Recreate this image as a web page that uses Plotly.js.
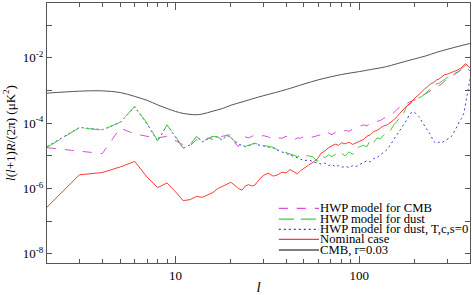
<!DOCTYPE html>
<html><head><meta charset="utf-8">
<script src="https://cdn.plot.ly/plotly-3.0.1.min.js"></script>
<style>html,body{margin:0;padding:0;background:#fff}#plot{width:472px;height:295px}</style>
</head><body><div id="plot"></div>
<script>
// multipole values shared by the noisy series
const ell = [2,3,4,5,6,7,8,9,10,11,12,13,14,15,16,17,18,19,20,21,22,23,24,25,26,27,28,30,32,34,36,38,40,42,44,46,48,50,53,56,59,62,65,68,71,74,77,80,84,88,92,96,100,105,110,115,120,125,130,136,142,148,154,160,167,174,181,188,195,203,211,219,227,235,244,253,262,271,280,290,300,310,320,330,340,350,360,370,380,390,400];
// log10 of l(l+1)R/(2pi) in uK^2
const hwpCmbLog = [-4.75,-4.85,-4.93,-4.15,-4.33,-4.40,-4.45,-4.40,-4.55,-4.66,-4.70,-4.50,-4.60,-4.45,-4.50,-4.43,-4.40,-4.38,-4.35,-4.60,-4.72,-4.50,-4.42,-4.45,-4.40,-4.38,-4.42,-4.38,-4.42,-4.50,-4.45,-4.46,-4.40,-4.48,-4.52,-4.45,-4.46,-4.40,-4.45,-4.42,-4.38,-4.35,-4.40,-4.30,-4.35,-4.28,-4.25,-4.28,-4.22,-4.25,-4.18,-4.15,-4.10,-4.05,-4.08,-4.00,-3.98,-3.95,-3.92,-3.85,-3.80,-3.72,-3.68,-3.58,-3.50,-3.42,-3.40,-3.35,-3.30,-3.28,-3.22,-3.18,-3.12,-3.08,-3.02,-2.95,-2.90,-2.85,-2.80,-2.72,-2.65,-2.60,-2.55,-2.50,-2.45,-2.42,-2.38,-2.32,-2.28,-2.35,-2.40];
const hwpDustLog = [-4.74,-4.14,-4.21,-3.97,-3.49,-4.00,-4.53,-4.05,-4.40,-4.76,-4.66,-4.40,-4.56,-4.48,-4.40,-4.42,-4.51,-4.36,-4.44,-4.55,-4.62,-4.67,-4.71,-4.68,-4.63,-4.61,-4.64,-4.68,-4.71,-4.74,-4.81,-4.86,-4.91,-4.95,-4.98,-5.02,-5.00,-4.99,-5.00,-5.03,-5.17,-5.00,-5.05,-4.97,-5.02,-4.95,-5.00,-4.93,-5.00,-4.88,-4.95,-4.80,-4.72,-4.68,-4.72,-4.50,-4.58,-4.45,-4.48,-4.35,-4.28,-4.22,-4.05,-3.95,-3.80,-3.70,-3.48,-3.40,-3.35,-3.30,-3.22,-3.18,-3.10,-3.02,-2.95,-2.88,-2.80,-2.78,-2.72,-2.66,-2.60,-2.55,-2.52,-2.48,-2.45,-2.40,-2.33,-2.28,-2.22,-2.25,-2.30];
const hwpDustTcsLog = [-4.72,-4.13,-4.20,-3.98,-3.50,-4.02,-4.55,-4.06,-4.42,-4.77,-4.66,-4.41,-4.57,-4.48,-4.40,-4.43,-4.52,-4.37,-4.45,-4.56,-4.64,-4.68,-4.72,-4.69,-4.65,-4.62,-4.66,-4.70,-4.72,-4.76,-4.83,-4.88,-4.93,-4.97,-5.00,-5.05,-5.10,-5.15,-5.12,-5.18,-5.22,-5.25,-5.22,-5.30,-5.26,-5.33,-5.30,-5.35,-5.32,-5.36,-5.30,-5.33,-5.27,-5.22,-5.15,-5.18,-5.08,-5.05,-4.98,-4.90,-4.80,-4.65,-4.50,-4.38,-4.22,-4.05,-3.90,-3.72,-3.65,-3.70,-3.80,-3.95,-4.10,-4.22,-4.35,-4.55,-4.62,-4.58,-4.60,-4.55,-4.50,-4.45,-4.38,-4.25,-4.10,-3.95,-3.85,-3.70,-3.30,-2.90,-2.65];
const nominalLog = [-6.57,-5.58,-5.51,-5.34,-5.17,-5.65,-5.97,-5.83,-6.10,-6.37,-6.34,-6.24,-6.27,-6.20,-6.12,-6.00,-5.93,-5.87,-5.81,-5.90,-6.00,-6.05,-5.92,-5.88,-5.92,-5.90,-5.78,-5.60,-5.53,-5.62,-5.58,-5.50,-5.52,-5.42,-5.50,-5.55,-5.45,-5.37,-5.28,-5.20,-5.10,-4.92,-4.85,-4.75,-4.70,-4.64,-4.68,-4.60,-4.63,-4.58,-4.65,-4.60,-4.55,-4.50,-4.40,-4.35,-4.25,-4.22,-4.15,-4.08,-4.05,-3.98,-3.90,-3.80,-3.68,-3.58,-3.47,-3.40,-3.30,-3.20,-3.12,-3.02,-2.95,-2.88,-2.80,-2.76,-2.68,-2.65,-2.58,-2.52,-2.50,-2.47,-2.45,-2.43,-2.38,-2.34,-2.30,-2.22,-2.18,-2.25,-2.30];
// smooth CMB r=0.03 curve
const cmbEll = [2,3,4,5,6,7,8,9,10,11,12,13,14,16,18,20,23,26,30,35,40,50,60,70,80,90,100,120,140,160,180,200,230,260,300,350,400];
const cmbLog = [-3.08,-3.02,-3.01,-3.06,-3.18,-3.30,-3.44,-3.55,-3.64,-3.70,-3.73,-3.74,-3.72,-3.63,-3.55,-3.45,-3.35,-3.26,-3.16,-3.06,-2.97,-2.80,-2.67,-2.58,-2.51,-2.46,-2.42,-2.34,-2.27,-2.18,-2.10,-2.03,-1.94,-1.84,-1.74,-1.64,-1.56];

const legendNames = ['HWP model for CMB','HWP model for dust','HWP model for dust, T,c,s=0','Nominal case','CMB, r=0.03'];
const colors = ['#d94fd9','#44cc44','#3b3bd0','#ff3b3b','#555555'];
const dashes = ['9px,9px','15px,7px','2px,3px','solid','solid'];

const pow = a => a.map(v => Math.pow(10, v));
const series = [
  {x: ell, y: pow(hwpDustTcsLog), i: 2},
  {x: ell, y: pow(hwpCmbLog), i: 0},
  {x: ell, y: pow(hwpDustLog), i: 1},
  {x: ell, y: pow(nominalLog), i: 3},
  {x: cmbEll, y: pow(cmbLog), i: 4}
];
const traces = series.map(s => ({
  x: s.x, y: s.y, type: 'scatter', mode: 'lines', name: legendNames[s.i],
  line: {color: colors[s.i], width: 1, dash: dashes[s.i], shape: s.i === 4 ? 'spline' : 'linear'},
  showlegend: false, hoverinfo: 'skip'
}));

const font = "'Liberation Serif', 'Times New Roman', serif";
const axc = '#555';
const shapes = [], annotations = [];
const rowY = [0.2104, 0.169, 0.1296, 0.0912, 0.05];
legendNames.forEach((n, i) => {
  shapes.push({type: 'line', xref: 'paper', yref: 'paper', x0: 0.548, x1: 0.643, y0: rowY[i], y1: rowY[i],
    line: {color: colors[i], width: i === 4 ? 1.5 : 1.2, dash: dashes[i]}});
  annotations.push({xref: 'paper', yref: 'paper', x: 0.641, y: rowY[i], xanchor: 'left', yanchor: 'middle',
    text: n, showarrow: false, font: {family: font, size: 12.7, color: '#000'}});
});

const minorX = [3,4,5,6,7,8,9,20,30,40,50,60,70,80,90,200,300,400];
const yVals = [1e-8,1e-7,1e-6,1e-5,1e-4,1e-3,1e-2,1e-1];
const yText = ['10<sup>-8</sup>','','10<sup>-6</sup>','','10<sup>-4</sup>','','10<sup>-2</sup>',''];

const layout = {
  width: 472, height: 295,
  margin: {l: 47, r: 2, t: 3, b: 32},
  paper_bgcolor: '#fff', plot_bgcolor: '#fff',
  font: {family: font, size: 13, color: '#000'},
  xaxis: {
    type: 'log', range: [Math.log10(2), Math.log10(400)],
    tickmode: 'array', tickvals: [10, 100], ticktext: ['10', '100'],
    ticks: 'inside', ticklen: 7, tickcolor: axc, tickwidth: 1,
    minor: {tickmode: 'array', tickvals: minorX, ticks: 'inside', ticklen: 4, tickcolor: axc, showgrid: false},
    showline: true, linecolor: axc, linewidth: 1, mirror: 'allticks',
    showgrid: false, zeroline: false,
    tickfont: {family: font, size: 13},
    title: {text: '<i>l</i>', font: {family: font, size: 15}, standoff: 5}
  },
  yaxis: {
    type: 'log', range: [-8.28, -0.32],
    tickmode: 'array', tickvals: yVals, ticktext: yText,
    ticks: 'inside', ticklen: 5, tickcolor: axc,
    showline: true, linecolor: axc, linewidth: 1, mirror: 'allticks',
    showgrid: false, zeroline: false,
    tickfont: {family: font, size: 13},
    title: {text: '<i>l</i>(<i>l</i>+1)<i>R</i>/(2π) (μK<sup>2</sup>)', font: {family: font, size: 13}, standoff: 4}
  },
  shapes: shapes, annotations: annotations
};
Plotly.newPlot('plot', traces, layout, {displayModeBar: false, staticPlot: true});
</script></body></html>
